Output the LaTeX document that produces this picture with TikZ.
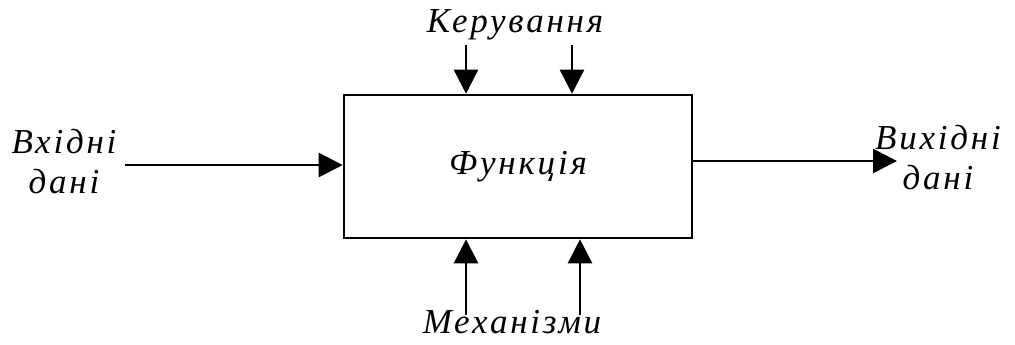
\documentclass[tikz,border=0pt]{standalone}
\usepackage{fontspec}
\setmainfont{Liberation Serif}
\newfontfamily\lblfont[LetterSpace=8]{Liberation Serif}
\usetikzlibrary{arrows.meta}
\tikzset{
  lbl/.style={font=\lblfont\itshape\fontsize{17.5}{20}\selectfont, inner sep=0pt, align=center},
  flow/.style={line width=1.3pt, -{Triangle[length=12pt,width=12pt]}}
}
\begin{document}
\begin{tikzpicture}[x=0.5pt,y=-0.5pt]
\useasboundingbox (0,0) rectangle (1015,344);
% the function block
\node[draw, line width=1.3pt, minimum width=174pt, minimum height=71.5pt, lbl] (func) at (518,166.5) {Функція};
% inputs and outputs
\node[lbl] (inp) at (64,162) {Вхідні\\дані};
\node[lbl] (outp) at (938,158) {Вихідні\\дані};
\coordinate (inbeg) at (125,165);
\coordinate (outend) at (897,161);
\draw[flow] (inbeg) -- (func.west |- inbeg);
\draw[flow] (func.east |- outend) -- (outend);
% control arrows from above
\node[lbl] (ctrl) at (515,25) {Керування};
\coordinate (ctrl1) at (466,45);
\coordinate (ctrl2) at (572,45);
\draw[flow] (ctrl1) -- (ctrl1 |- func.north);
\draw[flow] (ctrl2) -- (ctrl2 |- func.north);
% mechanism arrows from below
\node[lbl] (mech) at (512,322) {Механізми};
\coordinate (mech1) at (466,315);
\coordinate (mech2) at (580,315);
\draw[flow] (mech1) -- (mech1 |- func.south);
\draw[flow] (mech2) -- (mech2 |- func.south);
\end{tikzpicture}
\end{document}
